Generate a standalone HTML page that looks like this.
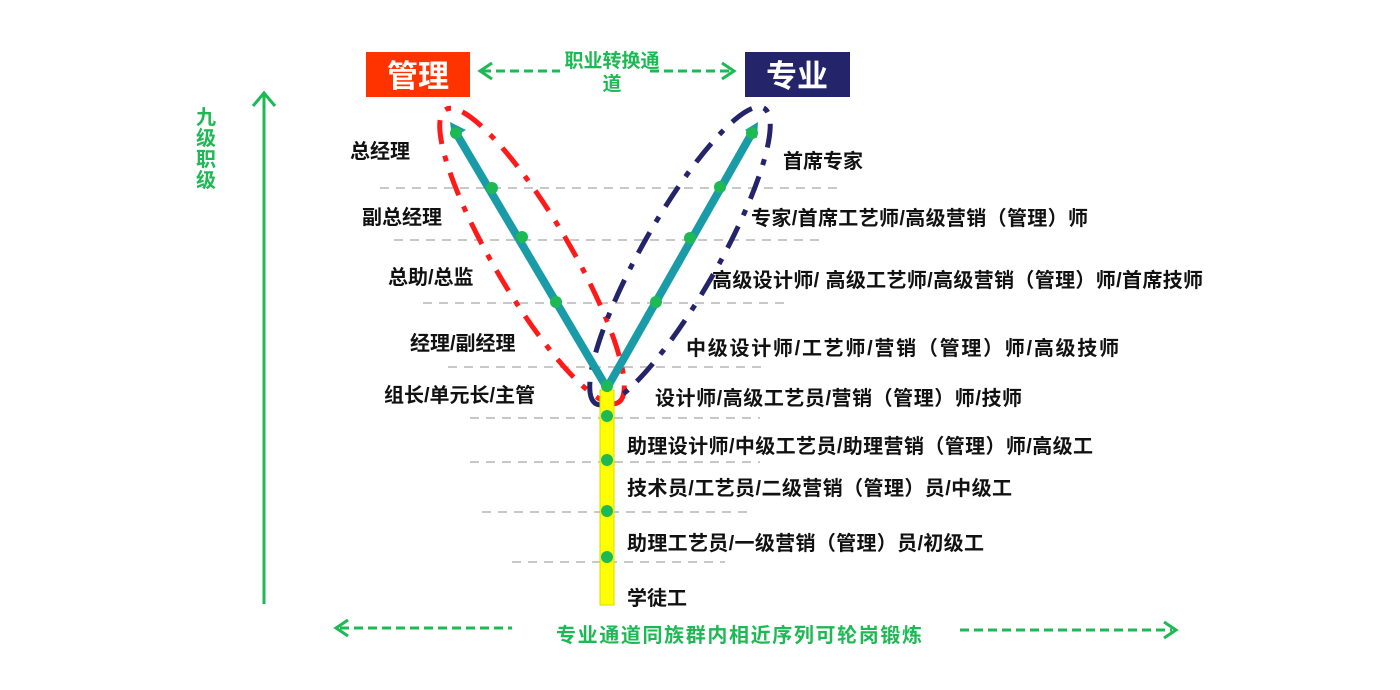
<!DOCTYPE html>
<html><head><meta charset="utf-8"><style>
html,body{margin:0;padding:0;background:#fff;}
svg{display:block;}
text{font-family:"Liberation Sans","Noto Sans CJK SC",sans-serif;font-weight:bold;}
.l{font-size:20px;fill:#111;}
.g{fill:#1db954;}
</style></head><body>
<svg width="1400" height="690" viewBox="0 0 1400 690" xmlns="http://www.w3.org/2000/svg">
<!-- dashed gray lines -->
<g stroke="#c8c8c8" stroke-width="2" stroke-dasharray="9,7">
<line x1="380" y1="188" x2="838" y2="188"/>
<line x1="394" y1="240" x2="822" y2="240"/>
<line x1="423" y1="303" x2="787" y2="303"/>
<line x1="448" y1="367" x2="765" y2="367"/>
<line x1="470" y1="418" x2="760" y2="418"/>
<line x1="470" y1="462" x2="760" y2="462"/>
<line x1="482" y1="512" x2="750" y2="512"/>
<line x1="512" y1="562" x2="725" y2="562"/>
</g>
<!-- boxes -->
<rect x="366" y="52" width="104" height="45" fill="#ff3300"/>
<text x="418" y="87" font-size="31" fill="#fff" text-anchor="middle">管理</text>
<rect x="745" y="52" width="105" height="45" fill="#24246a"/>
<text x="797" y="87" font-size="31" fill="#fff" text-anchor="middle">专业</text>
<!-- top green arrows -->
<g stroke="#1db954" stroke-width="3" fill="none">
<line x1="482" y1="71" x2="560" y2="71" stroke-dasharray="9,5"/>
<polyline points="492,63 480,71 492,79"/>
<line x1="650" y1="71" x2="732" y2="71" stroke-dasharray="9,5"/>
<polyline points="722,63 734,71 722,79"/>
</g>
<text x="612" y="67" font-size="19" class="g" text-anchor="middle">职业转换通</text>
<text x="612" y="90" font-size="19" class="g" text-anchor="middle">道</text>
<!-- vertical arrow -->
<line x1="264" y1="604" x2="264" y2="94" stroke="#1db954" stroke-width="3"/>
<polyline points="253,106 264,93 275,106" stroke="#1db954" stroke-width="3" fill="none"/>
<g font-size="20" class="g" text-anchor="middle">
<text x="206" y="124">九</text><text x="206" y="145">级</text><text x="206" y="166">职</text><text x="206" y="187">级</text>
</g>
<!-- bottom arrows -->
<g stroke="#1db954" stroke-width="3" fill="none">
<line x1="340" y1="628" x2="512" y2="628" stroke-dasharray="9,5"/>
<polyline points="348,620 336,628 348,636"/>
<line x1="960" y1="630" x2="1172" y2="630" stroke-dasharray="9,5"/>
<polyline points="1164,622 1176,630 1164,638"/>
</g>
<text x="739" y="642" font-size="20" class="g" text-anchor="middle" textLength="366">专业通道同族群内相近序列可轮岗锻炼</text>
<!-- ellipses -->
<ellipse cx="532" cy="256" rx="170" ry="38" transform="rotate(59.5 532 256)" fill="none" stroke="#ff1a1a" stroke-width="5" stroke-dasharray="24,12,6,12"/>
<ellipse cx="680" cy="256" rx="170" ry="38" transform="rotate(119.6 680 256)" fill="none" stroke="#24246a" stroke-width="5" stroke-dasharray="24,12,6,12"/>
<!-- yellow bar -->
<rect x="600" y="390" width="14" height="215" fill="#ffff00" stroke="#d8d800" stroke-width="1"/>
<!-- V arms -->
<g stroke="#1a9ca8" stroke-width="8" stroke-linecap="round">
<line x1="456" y1="133" x2="607" y2="388"/>
<line x1="752" y1="133" x2="607" y2="388"/>
</g>
<polygon points="450,122 466,130 452,138" fill="#1a9ca8"/>
<polygon points="758,122 745,130 757,138" fill="#1a9ca8"/>
<!-- dots -->
<g fill="#1db954">
<circle cx="456" cy="133" r="6"/><circle cx="492" cy="188" r="6"/><circle cx="522" cy="237" r="6"/><circle cx="556" cy="302" r="6"/>
<circle cx="752" cy="133" r="6"/><circle cx="720" cy="187" r="6"/><circle cx="690" cy="238" r="6"/><circle cx="656" cy="302" r="6"/>
<circle cx="607" cy="386" r="6"/>
<circle cx="607" cy="416" r="6"/><circle cx="607" cy="460" r="6"/><circle cx="607" cy="511" r="6"/><circle cx="607" cy="557" r="6"/>
</g>
<!-- left labels -->
<text class="l" x="350" y="158">总经理</text>
<text class="l" x="362" y="224">副总经理</text>
<text class="l" x="388" y="284">总助/总监</text>
<text class="l" x="410" y="350">经理/副经理</text>
<text class="l" x="384" y="402">组长/单元长/主管</text>
<!-- right labels -->
<text class="l" x="783" y="168">首席专家</text>
<text class="l" x="751" y="225" textLength="337">专家/首席工艺师/高级营销（管理）师</text>
<text class="l" x="712" y="287" textLength="491">高级设计师/ 高级工艺师/高级营销（管理）师/首席技师</text>
<text class="l" x="686" y="355" textLength="433">中级设计师/工艺师/营销（管理）师/高级技师</text>
<text class="l" x="655" y="405" textLength="367">设计师/高级工艺员/营销（管理）师/技师</text>
<text class="l" x="627" y="453" textLength="466">助理设计师/中级工艺员/助理营销（管理）师/高级工</text>
<text class="l" x="627" y="495" textLength="385">技术员/工艺员/二级营销（管理）员/中级工</text>
<text class="l" x="627" y="550" textLength="357">助理工艺员/一级营销（管理）员/初级工</text>
<text class="l" x="627" y="605">学徒工</text>
</svg>
</body></html>
